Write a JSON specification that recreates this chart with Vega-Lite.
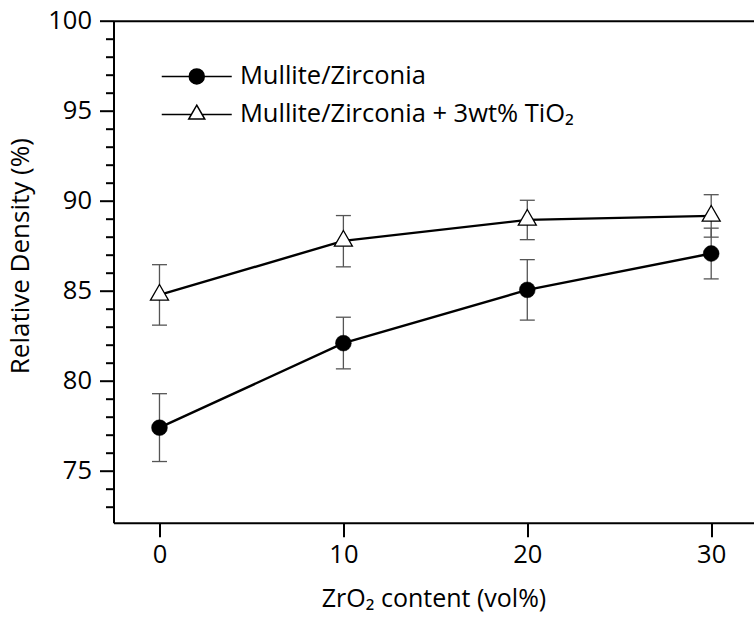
{
  "$schema": "https://vega.github.io/schema/vega-lite/v6.json",
  "autosize": "none",
  "width": 640,
  "height": 502,
  "padding": {"left": 113.5, "top": 20.7, "right": 0, "bottom": 108.3},
  "background": "white",
  "config": {
    "view": {"stroke": null},
    "font": "Open Sans",
    "axis": {"domainColor": "black", "domainWidth": 2, "tickColor": "black", "tickWidth": 2, "labelColor": "black", "titleColor": "black", "labelFont": "Open Sans", "titleFont": "Open Sans", "labelFontSize": 25.5, "titleFontSize": 25, "titleFontWeight": "normal", "grid": false},
    "legend": {"labelFont": "Open Sans", "labelFontSize": 25.5, "labelColor": "black"}
  },
  "datasets": {
    "pts": [
      {"zr": 0, "series": "Mullite/Zirconia", "density": 77.38, "lo": 75.5, "hi": 79.27},
      {"zr": 10, "series": "Mullite/Zirconia", "density": 82.08, "lo": 80.65, "hi": 83.52},
      {"zr": 20, "series": "Mullite/Zirconia", "density": 85.04, "lo": 83.36, "hi": 86.72},
      {"zr": 30, "series": "Mullite/Zirconia", "density": 87.06, "lo": 85.65, "hi": 88.47},
      {"zr": 0, "series": "Mullite/Zirconia + 3wt% TiO₂", "density": 84.76, "lo": 83.08, "hi": 86.44},
      {"zr": 10, "series": "Mullite/Zirconia + 3wt% TiO₂", "density": 87.76, "lo": 86.32, "hi": 89.17},
      {"zr": 20, "series": "Mullite/Zirconia + 3wt% TiO₂", "density": 88.93, "lo": 87.83, "hi": 90.02},
      {"zr": 30, "series": "Mullite/Zirconia + 3wt% TiO₂", "density": 89.15, "lo": 87.97, "hi": 90.33}
    ]
  },
  "data": {"name": "pts"},
  "layer": [
    {
      "mark": {"type": "rule", "color": "#555", "strokeWidth": 1.3},
      "encoding": {
        "x": {"field": "zr", "type": "quantitative", "scale": {"domain": [-2.5, 32.3], "nice": false, "zero": false},
          "axis": {"values": [0, 10, 20, 30], "title": "ZrO₂ content (vol%)", "tickSize": 14, "labelPadding": 6, "titlePadding": 18}},
        "y": {"field": "lo", "type": "quantitative", "scale": {"domain": [72.1, 100], "nice": false, "zero": false},
          "axis": {"values": [75, 80, 85, 90, 95, 100], "title": "Relative Density (%)", "titleFontSize": 26, "titleY": 235, "tickSize": 14, "labelPadding": 8, "titlePadding": 14}},
        "y2": {"field": "hi"}
      }
    },
    {
      "mark": {"type": "tick", "orient": "horizontal", "color": "#555", "size": 15, "thickness": 1.3, "opacity": 1},
      "encoding": {
        "x": {"field": "zr", "type": "quantitative", "axis": null},
        "y": {"field": "lo", "type": "quantitative", "axis": null}
      }
    },
    {
      "mark": {"type": "tick", "orient": "horizontal", "color": "#555", "size": 15, "thickness": 1.3, "opacity": 1},
      "encoding": {
        "x": {"field": "zr", "type": "quantitative", "axis": null},
        "y": {"field": "hi", "type": "quantitative", "axis": null}
      }
    },
    {
      "mark": {"type": "line", "color": "black", "strokeWidth": 2.4},
      "encoding": {
        "x": {"field": "zr", "type": "quantitative", "axis": null},
        "y": {"field": "density", "type": "quantitative", "axis": null},
        "detail": {"field": "series"}
      }
    },
    {
      "transform": [{"filter": "datum.series == 'Mullite/Zirconia'"}],
      "mark": {"type": "point", "shape": "circle", "filled": true, "fill": "black", "stroke": "black", "strokeWidth": 0.5, "size": 250, "opacity": 1},
      "encoding": {
        "x": {"field": "zr", "type": "quantitative", "axis": null},
        "y": {"field": "density", "type": "quantitative", "axis": null}
      }
    },
    {
      "transform": [{"filter": "datum.series != 'Mullite/Zirconia'"}],
      "mark": {"type": "point", "shape": "M0,-1.155L1,0.577L-1,0.577Z", "filled": true, "fill": "white", "stroke": "black", "strokeWidth": 1.3, "size": 324, "opacity": 1},
      "encoding": {
        "x": {"field": "zr", "type": "quantitative", "axis": null},
        "y": {"field": "density", "type": "quantitative", "axis": null}
      }
    },
    {
      "transform": [{"filter": "false"}],
      "mark": {"type": "point", "filled": true, "stroke": "black", "opacity": 1},
      "encoding": {
        "x": {"field": "zr", "type": "quantitative",
          "axis": {"orient": "top", "ticks": false, "labels": false, "title": null, "domainWidth": 2}},
        "y": {"field": "density", "type": "quantitative",
          "axis": {"orient": "left", "values": [73, 74, 76, 77, 78, 79, 81, 82, 83, 84, 86, 87, 88, 89, 91, 92, 93, 94, 96, 97, 98, 99], "labels": false, "title": null, "tickSize": 8, "domain": false}},
        "shape": {"field": "series", "type": "nominal",
          "scale": {"domain": ["Mullite/Zirconia", "Mullite/Zirconia + 3wt% TiO₂"],
            "range": ["M-7,0L-1.5,0M1.5,0L7,0M1.5,0A1.5,1.5,0,1,1,-1.5,0A1.5,1.5,0,1,1,1.5,0Z", "M-7,0L-1.067,0M1.067,0L7,0M0,-1.848L1.6,0.924L-1.6,0.924Z"]},
          "legend": {"orient": "none", "legendX": 70.5, "legendY": 43, "title": null, "padding": 0, "symbolSize": 100, "symbolOpacity": 1, "labelOffset": 30.4, "rowPadding": 11, "labelLimit": 600,
            "encode": {"symbols": {"update": {"stroke": {"value": "black"}, "strokeWidth": {"value": 2.2}, "opacity": {"value": 1}}}}}},
        "fill": {"field": "series", "type": "nominal",
          "scale": {"domain": ["Mullite/Zirconia", "Mullite/Zirconia + 3wt% TiO₂"], "range": ["black", "white"]},
          "legend": {"orient": "none", "legendX": 70.5, "legendY": 43, "title": null, "padding": 0, "symbolSize": 100, "symbolOpacity": 1, "labelOffset": 30.4, "rowPadding": 11, "labelLimit": 600,
            "encode": {"symbols": {"update": {"stroke": {"value": "black"}, "strokeWidth": {"value": 2.2}, "opacity": {"value": 1}}}}}}
      }
    }
  ],
  "resolve": {"axis": {"x": "independent", "y": "independent"}}
}
